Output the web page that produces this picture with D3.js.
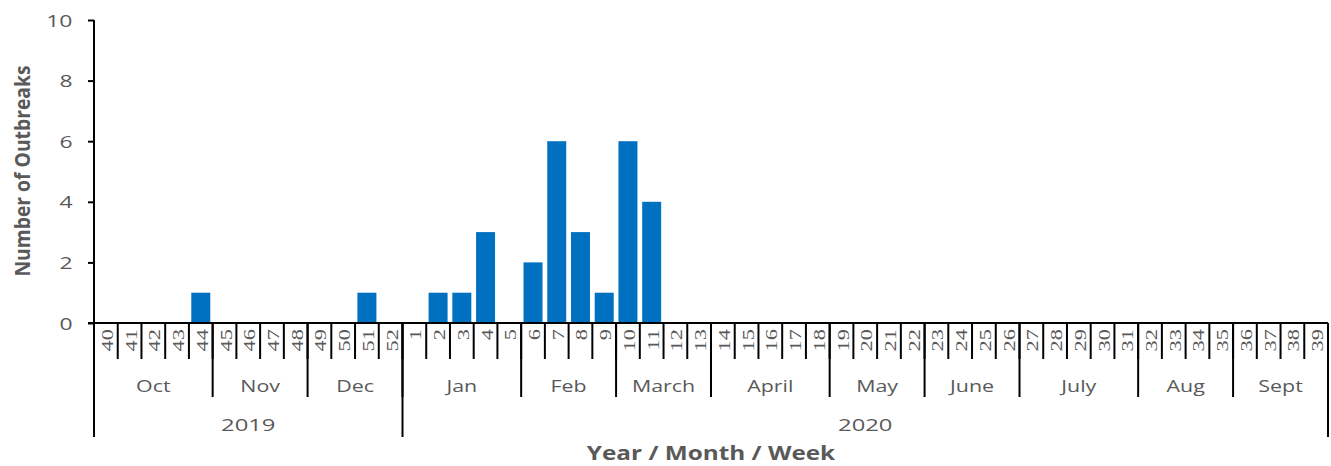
<!DOCTYPE html>
<html>
<head>
<meta charset="utf-8">
<script src="https://cdn.jsdelivr.net/npm/d3@7"></script>
<style>
  body { margin: 0; background: #fff; }
  svg text { fill: #595959; }
</style>
</head>
<body>
<svg id="chart" width="1331" height="466"></svg>
<script>
// week labels, 2019 wk 40 .. 2020 wk 39
const weeks = [40,41,42,43,44,45,46,47,48,49,50,51,52,
  1,2,3,4,5,6,7,8,9,10,11,12,13,14,15,16,17,18,19,20,21,22,23,24,25,26,
  27,28,29,30,31,32,33,34,35,36,37,38,39];
const outbreaks = [0,0,0,0,1,0,0,0,0,0,0,1,0,
  0,1,1,3,0,2,6,3,1,6,4,0,0,0,0,0,0,0,0,0,0,0,0,0,0,0,
  0,0,0,0,0,0,0,0,0,0,0,0,0];
const months = ["Oct","Nov","Dec","Jan","Feb","March","April","May","June","July","Aug","Sept"];
const monthWeeks = [5,4,4,5,4,4,5,4,4,5,4,4];
const years = ["2019","2020"];
const yearWeeks = [13,39];
const yTicks = [0,2,4,6,8,10];

function draw() {
  const svg = d3.select("#chart");
  const left = 94, right = 1328, top = 20, base = 323;

  const keys = weeks.map((w, i) => i);
  const x = d3.scaleBand().domain(keys).range([left, right])
    .paddingInner(0.2).paddingOuter(0.1);
  const y = d3.scaleLinear().domain([0, 10]).range([base, top]);
  const step = x.step();
  const edge = i => left + i * step;
  const sans = "'Open Sans', sans-serif";

  // bars
  svg.append("g").selectAll("rect")
    .data(outbreaks.map((v, i) => ({v, i})).filter(d => d.v > 0))
    .enter().append("rect")
    .attr("x", d => x(d.i))
    .attr("width", x.bandwidth())
    .attr("y", d => y(d.v))
    .attr("height", d => base - y(d.v))
    .attr("fill", "#0070c0");

  // y axis
  const ya = svg.append("g")
    .attr("transform", "translate(" + left + ",0)")
    .call(d3.axisLeft(y).tickValues(yTicks).tickSize(6));
  ya.select(".domain").attr("stroke", "#000").attr("stroke-width", 2)
    .attr("d", "M0," + top + "V" + base);
  ya.selectAll(".tick line").attr("stroke", "#000").attr("stroke-width", 2);
  ya.selectAll(".tick text")
    .attr("x", 0).attr("dy", "0.36em")
    .attr("transform", "translate(-21.5,0) scale(1.35,1)")
    .style("font", "17px " + sans).style("fill", "#595959");

  const lines = svg.append("g").attr("stroke", "#000").attr("stroke-width", 2);
  // baseline
  lines.append("line").attr("x1", left - 6).attr("x2", right).attr("y1", base).attr("y2", base);

  // week separators
  lines.selectAll(".wk").data(d3.range(1, weeks.length)).enter().append("line")
    .attr("x1", edge).attr("x2", edge).attr("y1", base).attr("y2", 359);

  // month separators
  const mEdges = d3.cumsum(monthWeeks);
  lines.selectAll(".mo").data(Array.from(mEdges).slice(0, -1)).enter().append("line")
    .attr("x1", edge).attr("x2", edge).attr("y1", base).attr("y2", 397);

  // year separators (incl. ends)
  const yEdges = [0].concat(Array.from(d3.cumsum(yearWeeks)));
  lines.selectAll(".yr").data(yEdges).enter().append("line")
    .attr("x1", edge).attr("x2", edge).attr("y1", base).attr("y2", 437);

  // week labels
  svg.append("g").selectAll("text").data(weeks).enter().append("text")
    .attr("transform", (d, i) => "translate(" + (x(i) + x.bandwidth() / 2 + 7) + ",329) rotate(-90) scale(1.4,1)")
    .attr("text-anchor", "end")
    .style("font", "16px 'Liberation Serif', serif")
    .text(d => d);

  // month labels
  const mStart = [0].concat(Array.from(mEdges));
  svg.append("g").selectAll("text").data(months).enter().append("text")
    .attr("transform", (d, i) => "translate(" + (edge(mStart[i]) + edge(mStart[i + 1])) / 2 + ",392) scale(1.26,1)")
    .attr("text-anchor", "middle")
    .style("font", "17px " + sans)
    .text(d => d);

  // year labels
  svg.append("g").selectAll("text").data(years).enter().append("text")
    .attr("transform", (d, i) => "translate(" + (edge(yEdges[i]) + edge(yEdges[i + 1])) / 2 + ",431) scale(1.4,1)")
    .attr("text-anchor", "middle")
    .style("font", "17px " + sans)
    .text(d => d);

  // axis titles
  svg.append("text")
    .attr("transform", "translate(711,460) scale(1.28,1)")
    .attr("text-anchor", "middle")
    .style("font", "bold 19px " + sans)
    .text("Year / Month / Week");

  svg.append("text")
    .attr("transform", "translate(30,171) rotate(-90) scale(0.92,1)")
    .attr("text-anchor", "middle")
    .style("font", "bold 21px " + sans)
    .text("Number of Outbreaks");
}

document.addEventListener("DOMContentLoaded", draw);
</script>
</body>
</html>
